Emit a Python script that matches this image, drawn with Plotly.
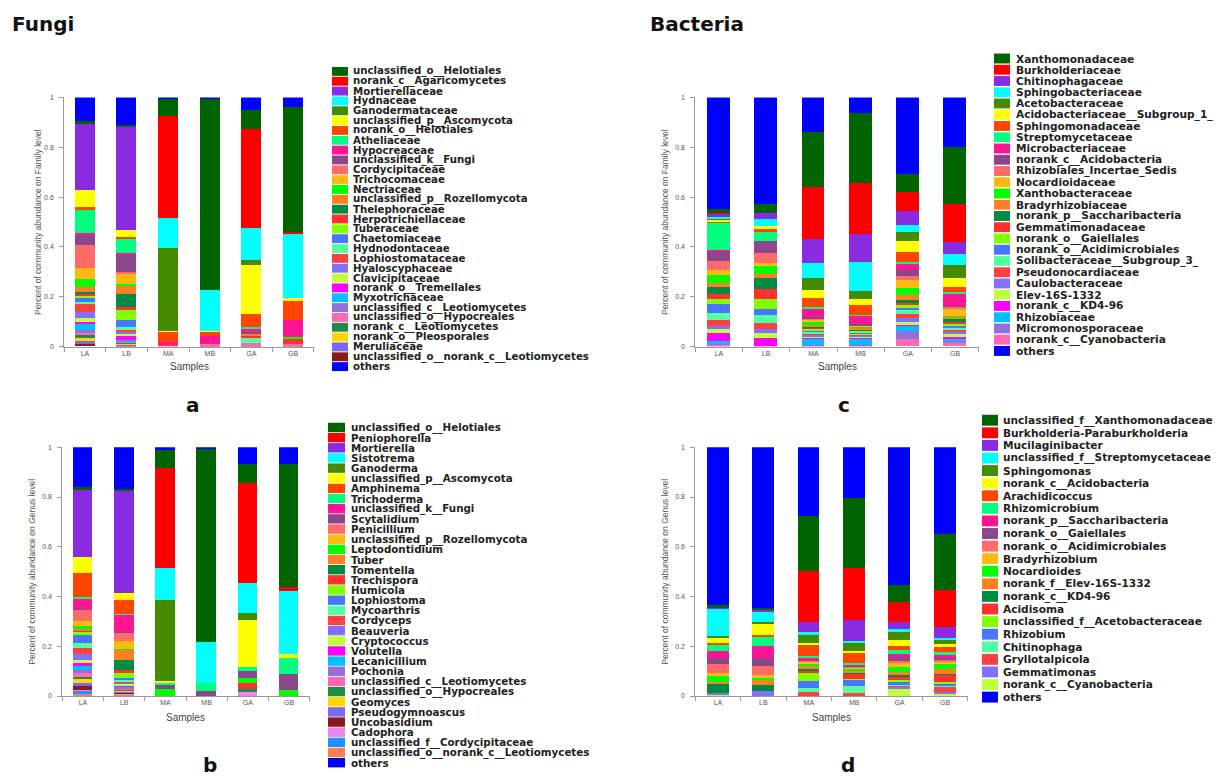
import plotly.graph_objects as go

W, H = 1223, 780
samples = ["LA", "LB", "MA", "MB", "GA", "GB"]

palette = ["#006400", "#FF0000", "#8A2BE2", "#00FFFF", "#458B00", "#FFFF00", "#FF4500",
           "#00FF7F", "#FF1493", "#8B4789", "#FF6A6A", "#FFB90F", "#00FF00", "#FF7F24",
           "#008B45", "#FF3030", "#7FFF00", "#4876FF", "#54FF9F", "#FF4040", "#8470FF",
           "#C0FF3E", "#FF00FF", "#00BFFF", "#9370DB", "#FF69B4", "#1E8B4B", "#FFD700",
           "#7B68EE", "#8B1A1A", "#EE82EE", "#1E90FF", "#FF7F50"]
others_color = "#0000FF"

# ---------------- Panel a: Fungi, family level ----------------
fungi_family_taxa = [
    "unclassified_o__Helotiales", "norank_c__Agaricomycetes", "Mortierellaceae", "Hydnaceae",
    "Ganodermataceae", "unclassified_p__Ascomycota", "norank_o__Helotiales", "Atheliaceae",
    "Hypocreaceae", "unclassified_k__Fungi", "Cordycipitaceae", "Trichocomaceae",
    "Nectriaceae", "unclassified_p__Rozellomycota", "Thelephoraceae", "Herpotrichiellaceae",
    "Tuberaceae", "Chaetomiaceae", "Hydnodontaceae", "Lophiostomataceae", "Hyaloscyphaceae",
    "Clavicipitaceae", "norank_o__Tremellales", "Myxotrichaceae",
    "unclassified_c__Leotiomycetes", "unclassified_o__Hypocreales", "norank_c__Leotiomycetes",
    "norank_o__Pleosporales", "Meruliaceae", "unclassified_o__norank_c__Leotiomycetes"]
#                      LA     LB     MA     MB     GA     GB
fungi_family_values = [
    [0.007, 0.008, 0.067, 0.766, 0.076, 0.500],
    [0.000, 0.000, 0.407, 0.000, 0.398, 0.010],
    [0.267, 0.412, 0.000, 0.000, 0.000, 0.000],
    [0.000, 0.000, 0.122, 0.165, 0.126, 0.255],
    [0.000, 0.000, 0.332, 0.000, 0.023, 0.000],
    [0.070, 0.028, 0.004, 0.003, 0.193, 0.013],
    [0.010, 0.006, 0.040, 0.018, 0.053, 0.077],
    [0.093, 0.058, 0.000, 0.000, 0.009, 0.000],
    [0.010, 0.005, 0.012, 0.030, 0.013, 0.067],
    [0.040, 0.070, 0.000, 0.000, 0.006, 0.000],
    [0.092, 0.010, 0.000, 0.000, 0.000, 0.000],
    [0.044, 0.038, 0.000, 0.000, 0.000, 0.000],
    [0.033, 0.010, 0.000, 0.000, 0.000, 0.009],
    [0.017, 0.032, 0.000, 0.000, 0.006, 0.000],
    [0.006, 0.052, 0.000, 0.000, 0.000, 0.000],
    [0.012, 0.012, 0.000, 0.000, 0.008, 0.020],
    [0.004, 0.040, 0.000, 0.000, 0.000, 0.000],
    [0.021, 0.028, 0.000, 0.000, 0.000, 0.000],
    [0.008, 0.012, 0.000, 0.000, 0.024, 0.000],
    [0.032, 0.007, 0.003, 0.000, 0.000, 0.000],
    [0.024, 0.006, 0.000, 0.000, 0.000, 0.000],
    [0.015, 0.008, 0.000, 0.000, 0.000, 0.000],
    [0.008, 0.018, 0.000, 0.000, 0.000, 0.000],
    [0.023, 0.003, 0.000, 0.000, 0.000, 0.000],
    [0.013, 0.004, 0.000, 0.000, 0.000, 0.000],
    [0.009, 0.005, 0.003, 0.005, 0.010, 0.005],
    [0.011, 0.003, 0.000, 0.000, 0.000, 0.000],
    [0.011, 0.003, 0.000, 0.000, 0.000, 0.000],
    [0.013, 0.004, 0.000, 0.000, 0.000, 0.000],
    [0.009, 0.004, 0.000, 0.004, 0.002, 0.004]]
fungi_family_others = [0.098, 0.114, 0.010, 0.009, 0.053, 0.040]

# ---------------- Panel c: Bacteria, family level ----------------
bact_family_taxa = [
    "Xanthomonadaceae", "Burkholderiaceae", "Chitinophagaceae", "Sphingobacteriaceae",
    "Acetobacteraceae", "Acidobacteriaceae__Subgroup_1_", "Sphingomonadaceae",
    "Streptomycetaceae", "Microbacteriaceae", "norank_c__Acidobacteria",
    "Rhizobiales_Incertae_Sedis", "Nocardioidaceae", "Xanthobacteraceae", "Bradyrhizobiaceae",
    "norank_p__Saccharibacteria", "Gemmatimonadaceae", "norank_o__Gaiellales",
    "norank_o__Acidimicrobiales", "Solibacteraceae__Subgroup_3_", "Pseudonocardiaceae",
    "Caulobacteraceae", "Elev-16S-1332", "norank_c__KD4-96", "Rhizobiaceae",
    "Micromonosporaceae", "norank_c__Cyanobacteria"]
bact_family_values = [
    [0.016, 0.038, 0.221, 0.278, 0.075, 0.228],
    [0.004, 0.000, 0.208, 0.206, 0.075, 0.150],
    [0.012, 0.024, 0.099, 0.114, 0.055, 0.050],
    [0.006, 0.026, 0.060, 0.113, 0.027, 0.046],
    [0.004, 0.000, 0.049, 0.032, 0.037, 0.049],
    [0.007, 0.012, 0.031, 0.024, 0.046, 0.038],
    [0.006, 0.012, 0.035, 0.040, 0.038, 0.018],
    [0.112, 0.037, 0.005, 0.003, 0.010, 0.008],
    [0.004, 0.000, 0.038, 0.037, 0.022, 0.049],
    [0.037, 0.049, 0.006, 0.003, 0.024, 0.004],
    [0.036, 0.041, 0.004, 0.003, 0.016, 0.010],
    [0.023, 0.012, 0.006, 0.003, 0.033, 0.025],
    [0.030, 0.033, 0.013, 0.005, 0.027, 0.006],
    [0.016, 0.015, 0.007, 0.005, 0.022, 0.010],
    [0.028, 0.042, 0.005, 0.004, 0.010, 0.010],
    [0.019, 0.040, 0.005, 0.003, 0.010, 0.008],
    [0.020, 0.040, 0.007, 0.006, 0.012, 0.008],
    [0.036, 0.027, 0.005, 0.004, 0.009, 0.008],
    [0.030, 0.030, 0.006, 0.004, 0.013, 0.006],
    [0.025, 0.027, 0.006, 0.004, 0.018, 0.010],
    [0.011, 0.016, 0.005, 0.005, 0.018, 0.008],
    [0.016, 0.020, 0.006, 0.005, 0.007, 0.011],
    [0.033, 0.029, 0.003, 0.003, 0.009, 0.010],
    [0.008, 0.000, 0.025, 0.024, 0.017, 0.006],
    [0.008, 0.000, 0.004, 0.004, 0.033, 0.010],
    [0.004, 0.002, 0.002, 0.002, 0.029, 0.012]]
bact_family_others = [0.449, 0.428, 0.139, 0.066, 0.308, 0.202]

# ---------------- Panel b: Fungi, genus level ----------------
fungi_genus_taxa = [
    "unclassified_o__Helotiales", "Peniophorella", "Mortierella", "Sistotrema", "Ganoderma",
    "unclassified_p__Ascomycota", "Amphinema", "Trichoderma", "unclassified_k__Fungi",
    "Scytalidium", "Penicillium", "unclassified_p__Rozellomycota", "Leptodontidium", "Tuber",
    "Tomentella", "Trechispora", "Humicola", "Lophiostoma", "Mycoarthris", "Cordyceps",
    "Beauveria", "Cryptococcus", "Volutella", "Lecanicillium", "Pochonia",
    "unclassified_c__Leotiomycetes", "unclassified_o__Hypocreales", "Geomyces",
    "Pseudogymnoascus", "Uncobasidium", "Cadophora", "unclassified_f__Cordycipitaceae",
    "unclassified_o__norank_c__Leotiomycetes"]
fungi_genus_values = [
    [0.008, 0.009, 0.070, 0.777, 0.075, 0.494],
    [0.000, 0.000, 0.405, 0.000, 0.402, 0.013],
    [0.272, 0.409, 0.000, 0.000, 0.000, 0.000],
    [0.000, 0.000, 0.126, 0.162, 0.123, 0.257],
    [0.000, 0.000, 0.325, 0.000, 0.027, 0.000],
    [0.066, 0.030, 0.006, 0.000, 0.189, 0.013],
    [0.094, 0.057, 0.000, 0.000, 0.000, 0.000],
    [0.010, 0.002, 0.008, 0.033, 0.017, 0.067],
    [0.042, 0.068, 0.000, 0.000, 0.000, 0.000],
    [0.002, 0.002, 0.020, 0.020, 0.029, 0.063],
    [0.044, 0.036, 0.000, 0.000, 0.000, 0.000],
    [0.020, 0.032, 0.000, 0.000, 0.000, 0.000],
    [0.012, 0.004, 0.027, 0.000, 0.017, 0.023],
    [0.005, 0.042, 0.000, 0.000, 0.000, 0.000],
    [0.003, 0.040, 0.000, 0.000, 0.000, 0.000],
    [0.004, 0.012, 0.000, 0.000, 0.027, 0.000],
    [0.012, 0.020, 0.000, 0.000, 0.000, 0.000],
    [0.033, 0.006, 0.000, 0.000, 0.000, 0.000],
    [0.020, 0.008, 0.000, 0.000, 0.000, 0.000],
    [0.024, 0.003, 0.000, 0.000, 0.000, 0.000],
    [0.024, 0.004, 0.000, 0.000, 0.000, 0.000],
    [0.011, 0.010, 0.000, 0.000, 0.000, 0.000],
    [0.013, 0.003, 0.000, 0.000, 0.000, 0.000],
    [0.018, 0.003, 0.000, 0.000, 0.000, 0.000],
    [0.012, 0.005, 0.000, 0.000, 0.000, 0.000],
    [0.015, 0.004, 0.000, 0.000, 0.000, 0.000],
    [0.006, 0.002, 0.000, 0.000, 0.009, 0.000],
    [0.017, 0.004, 0.000, 0.000, 0.000, 0.000],
    [0.012, 0.006, 0.000, 0.000, 0.000, 0.000],
    [0.016, 0.002, 0.000, 0.000, 0.000, 0.000],
    [0.004, 0.003, 0.000, 0.000, 0.017, 0.000],
    [0.012, 0.004, 0.000, 0.000, 0.000, 0.000],
    [0.008, 0.003, 0.000, 0.000, 0.000, 0.000]]
fungi_genus_others = [0.161, 0.167, 0.013, 0.008, 0.068, 0.070]

# ---------------- Panel d: Bacteria, genus level ----------------
bact_genus_taxa = [
    "unclassified_f__Xanthomonadaceae", "Burkholderia-Paraburkholderia", "Mucilaginibacter",
    "unclassified_f__Streptomycetaceae", "Sphingomonas", "norank_c__Acidobacteria",
    "Arachidicoccus", "Rhizomicrobium", "norank_p__Saccharibacteria", "norank_o__Gaiellales",
    "norank_o__Acidimicrobiales", "Bradyrhizobium", "Nocardioides", "norank_f__Elev-16S-1332",
    "norank_c__KD4-96", "Acidisoma", "unclassified_f__Acetobacteraceae", "Rhizobium",
    "Chitinophaga", "Gryllotalpicola", "Gemmatimonas", "norank_c__Cyanobacteria"]
bact_genus_values = [
    [0.008, 0.007, 0.222, 0.283, 0.069, 0.222],
    [0.000, 0.000, 0.205, 0.211, 0.079, 0.150],
    [0.004, 0.010, 0.042, 0.084, 0.030, 0.045],
    [0.113, 0.037, 0.007, 0.004, 0.008, 0.004],
    [0.003, 0.007, 0.037, 0.036, 0.036, 0.020],
    [0.024, 0.048, 0.007, 0.004, 0.024, 0.010],
    [0.004, 0.006, 0.046, 0.045, 0.016, 0.022],
    [0.030, 0.036, 0.006, 0.004, 0.017, 0.013],
    [0.027, 0.050, 0.005, 0.004, 0.009, 0.010],
    [0.022, 0.033, 0.005, 0.003, 0.017, 0.007],
    [0.036, 0.036, 0.006, 0.004, 0.009, 0.007],
    [0.013, 0.012, 0.006, 0.004, 0.017, 0.013],
    [0.024, 0.006, 0.012, 0.013, 0.020, 0.020],
    [0.010, 0.020, 0.008, 0.004, 0.011, 0.017],
    [0.033, 0.024, 0.008, 0.004, 0.009, 0.004],
    [0.000, 0.000, 0.012, 0.022, 0.007, 0.029],
    [0.000, 0.000, 0.031, 0.004, 0.013, 0.006],
    [0.000, 0.000, 0.026, 0.026, 0.008, 0.008],
    [0.000, 0.000, 0.016, 0.025, 0.005, 0.006],
    [0.000, 0.000, 0.017, 0.013, 0.005, 0.020],
    [0.011, 0.020, 0.000, 0.000, 0.006, 0.006],
    [0.002, 0.000, 0.000, 0.000, 0.030, 0.010]]
bact_genus_others = [0.636, 0.648, 0.276, 0.203, 0.555, 0.351]

yticks = [0, 0.2, 0.4, 0.6, 0.8, 1]
ytick_text = ["0", "0.2", "0.4", "0.6", "0.8", "1"]

FONT = "Arial, 'Liberation Sans', sans-serif"
WIDE = "'DejaVu Sans', Verdana, sans-serif"


def px(x):
    return x / W


def py(y):
    return 1 - y / H


# panel geometry in pixels: (x0, x1, ytop, ybottom)
panels = [
    dict(ax="", taxa=fungi_family_taxa, vals=fungi_family_values, oth=fungi_family_others,
         box=(64.2, 313.8, 94.3, 345.7), ytitle="Percent of community abundance on Family level",
         ytx=38, sy=366, legend=dict(sx0=332, sx1=348, y0=68, pitch=9.93, sh=9, tx=352, fs=10.2)),
    dict(ax="2", taxa=bact_family_taxa, vals=bact_family_values, oth=bact_family_others,
         box=(695.4, 978.6, 94.3, 345.7), ytitle="Percent of community abundance on Family level",
         ytx=665, sy=366, legend=dict(sx0=994, sx1=1010, y0=55, pitch=11.35, sh=10, tx=1015, fs=10.6)),
    dict(ax="3", taxa=fungi_genus_taxa, vals=fungi_genus_values, oth=fungi_genus_others,
         box=(62.4, 309.6, 447.3, 698.3), ytitle="Percent of community abundance on Genus level",
         ytx=32, sy=720, legend=dict(sx0=328, sx1=345, y0=427.3, pitch=10.25, sh=9.5, tx=350, fs=10.3)),
    dict(ax="4", taxa=bact_genus_taxa, vals=bact_genus_values, oth=bact_genus_others,
         box=(695.3, 967.7, 447.3, 698.3), ytitle="Percent of community abundance on Genus level",
         ytx=665, sy=720, legend=dict(sx0=982, sx1=998, y0=420, pitch=12.7, sh=11, tx=1002, fs=10.6)),
]

fig = go.Figure()
annotations = []
shapes = []
layout_axes = {}

for p in panels:
    xa = "x" + p["ax"]
    ya = "y" + p["ax"]
    n = len(p["taxa"])
    # stack: last taxon at the bottom, first taxon just under "others"
    for i in range(n - 1, -1, -1):
        fig.add_trace(go.Bar(x=samples, y=p["vals"][i], name=p["taxa"][i],
                             marker=dict(color=palette[i], line=dict(width=0)),
                             width=0.48, showlegend=False, xaxis=xa, yaxis=ya))
    fig.add_trace(go.Bar(x=samples, y=p["oth"], name="others",
                         marker=dict(color=others_color, line=dict(width=0)),
                         width=0.48, showlegend=False, xaxis=xa, yaxis=ya))

    x0, x1, yt, yb = p["box"]
    key = p["ax"]
    layout_axes["xaxis" + key] = dict(
        domain=[px(x0), px(x1)], anchor=ya, type="category", range=[-0.5, 5.5],
        tickson="boundaries", ticks="outside", ticklen=4, tickcolor="#9a9a9a",
        showline=True, linecolor="#9a9a9a", linewidth=1, showgrid=False, zeroline=False,
        tickfont=dict(size=7, color="#555555", family=FONT), fixedrange=True)
    layout_axes["yaxis" + key] = dict(
        domain=[py(yb), py(yt)], anchor=xa, range=[0, 1], tickvals=yticks,
        ticktext=ytick_text, ticks="outside", ticklen=4, tickcolor="#9a9a9a",
        showline=True, linecolor="#9a9a9a", linewidth=1, showgrid=False, zeroline=False,
        ticklabelstandoff=4, tickfont=dict(size=7, color="#555555", family=FONT),
        fixedrange=True)

    # axis titles
    annotations.append(dict(x=px(p["ytx"]), y=py((yt + yb) / 2), xref="paper", yref="paper",
                            xanchor="center", yanchor="middle",
                            text=p["ytitle"], textangle=-90, showarrow=False,
                            font=dict(size=8.5, color="#555555", family=FONT)))
    annotations.append(dict(x=px((x0 + x1) / 2), y=py(p["sy"]), xref="paper", yref="paper",
                            xanchor="center", yanchor="middle",
                            text="Samples", showarrow=False,
                            font=dict(size=10, color="#444444", family=FONT)))

    # legend (swatches + labels)
    lg = p["legend"]
    names = p["taxa"] + ["others"]
    cols = palette[:n] + [others_color]
    for k, (nm, c) in enumerate(zip(names, cols)):
        cy = lg["y0"] + k * lg["pitch"]
        shapes.append(dict(type="rect", xref="paper", yref="paper",
                           x0=px(lg["sx0"]), x1=px(lg["sx1"]),
                           y0=py(cy + lg["sh"] / 2), y1=py(cy - lg["sh"] / 2),
                           fillcolor=c, line=dict(width=0)))
        annotations.append(dict(x=px(lg["tx"]), y=py(cy), xref="paper", yref="paper",
                                xanchor="left", yanchor="middle", text="<b>" + nm + "</b>",
                                showarrow=False, borderpad=0,
                                font=dict(size=lg["fs"], color="#222222", family=WIDE)))

# titles and panel letters
for txt, x, y in [("Fungi", 10, 20), ("Bacteria", 648, 20)]:
    annotations.append(dict(x=px(x), y=py(y), xref="paper", yref="paper", xanchor="left",
                            yanchor="middle", text="<b>" + txt + "</b>", showarrow=False,
                            font=dict(size=20, color="#111111", family=WIDE)))
for txt, x, y in [("a", 193, 405), ("c", 844, 405), ("b", 210, 768), ("d", 848, 768)]:
    annotations.append(dict(x=px(x), y=py(y), xref="paper", yref="paper", xanchor="center",
                            yanchor="middle", text="<b>" + txt + "</b>", showarrow=False,
                            font=dict(size=20, color="#111111", family=WIDE)))

fig.update_layout(
    width=W, height=H, margin=dict(l=0, r=0, t=0, b=0), autosize=False,
    barmode="stack", bargap=0, plot_bgcolor="white", paper_bgcolor="white",
    annotations=annotations, shapes=shapes, showlegend=False,
    font=dict(family=FONT), **layout_axes)

fig.write_html("out.html", config={"displayModeBar": False},
               post_script="document.body.style.margin='0';document.body.style.overflow='hidden';")
